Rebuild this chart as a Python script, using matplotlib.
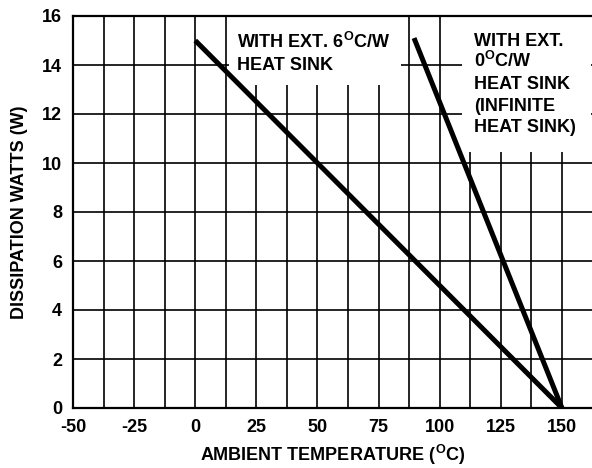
import numpy as np
import matplotlib
matplotlib.use("Agg")
import matplotlib.pyplot as plt
from matplotlib.patches import Rectangle

plt.rcParams["font.family"] = ["Liberation Sans", "DejaVu Sans"]
plt.rcParams["font.weight"] = "bold"
plt.rcParams["axes.unicode_minus"] = False
plt.rcParams["mathtext.fontset"] = "custom"
plt.rcParams["mathtext.rm"] = "Liberation Sans:bold"
plt.rcParams["mathtext.bf"] = "Liberation Sans:bold"

# curve data (ambient temperature degC, dissipation W)
temp_6cw = [0, 150]
watts_6cw = [15, 0]
temp_0cw = [89.5, 150]
watts_0cw = [15.1, 0]

x_ticks = [-50, -25, 0, 25, 50, 75, 100, 125, 150]
x_minor = [-37.5, -12.5, 12.5, 37.5, 62.5, 87.5, 112.5, 137.5]
y_ticks = [0, 2, 4, 6, 8, 10, 12, 14, 16]

lines_6cw = ["WITH EXT. 6$^{\\rm O}$C/W", "HEAT SINK"]
lines_0cw = ["WITH EXT.", "0$^{\\rm O}$C/W", "HEAT SINK", "(INFINITE",
             "HEAT SINK)"]

FS = 13

fig = plt.figure(figsize=(5.92, 4.68), dpi=100)
ax = fig.add_axes([73 / 592, 60 / 468, 519 / 592, 392 / 468])

ax.set_xlim(-50, 162.3)
ax.set_ylim(0, 16)
ax.set_xticks(x_ticks)
ax.set_xticks(x_minor, minor=True)
ax.set_yticks(y_ticks)
ax.tick_params(which="both", length=0, labelsize=FS, pad=8)
for lab in ax.get_xticklabels() + ax.get_yticklabels():
    lab.set_fontweight("bold")

ax.grid(True, which="both", axis="x", color="black", linewidth=1.2, zorder=1)
ax.grid(True, which="major", axis="y", color="black", linewidth=1.2, zorder=1)
ax.set_axisbelow(True)

for side in ["left", "bottom", "top"]:
    ax.spines[side].set_linewidth(1.6)
    ax.spines[side].set_zorder(4)
ax.spines["right"].set_visible(False)

# white boxes behind the annotations
ax.add_patch(Rectangle((14.0, 13.2), 70.0, 2.8, facecolor="white",
                       edgecolor="none", zorder=2))
ax.add_patch(Rectangle((109.2, 10.45), 52.5, 5.55, facecolor="white",
                       edgecolor="none", zorder=2))

ax.plot(temp_6cw, watts_6cw, color="black", linewidth=3.6,
        solid_capstyle="butt", zorder=3)
ax.plot(temp_0cw, watts_0cw, color="black", linewidth=3.6,
        solid_capstyle="butt", zorder=3)

step = 0.88
for i, txt in enumerate(lines_6cw):
    ax.text(17.2, 14.69 - i * step, txt, fontsize=FS, fontweight="bold",
            va="baseline", ha="left", zorder=5)
for i, txt in enumerate(lines_0cw):
    ax.text(114.1, 14.78 - i * step, txt, fontsize=FS, fontweight="bold",
            va="baseline", ha="left", zorder=5)

ax.set_xlabel("AMBIENT TEMPERATURE ($^{\\rm O}$C)", fontsize=FS,
              fontweight="bold", labelpad=5)
ax.set_ylabel("DISSIPATION WATTS (W)", fontsize=FS, fontweight="bold",
              labelpad=10)

fig.savefig("out.png", dpi=100)
